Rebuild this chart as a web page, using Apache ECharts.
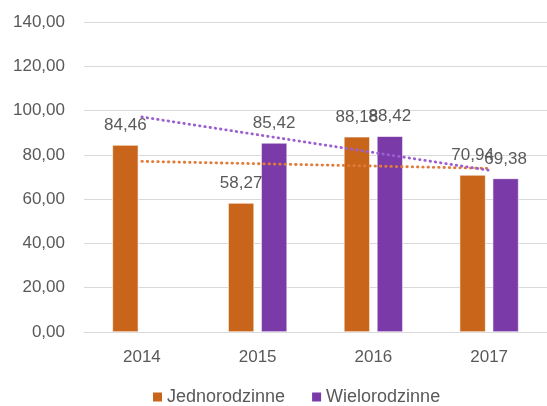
<!DOCTYPE html>
<html>
<head>
<meta charset="utf-8">
<script src="https://cdn.jsdelivr.net/npm/echarts@6/dist/echarts.min.js"></script>
<style>html,body{margin:0;padding:0;background:#fff}#c{width:547px;height:406px}</style>
</head>
<body>
<div id="c"></div>
<script>
var categories = ['2014', '2015', '2016', '2017'];
var jednorodzinne = [84.46, 58.27, 88.18, 70.94];
var wielorodzinne = [null, 85.42, 88.42, 69.38];
var trendJednorodzinne = [77.06, null, null, 73.87];
var trendWielorodzinne = [97.11, null, null, 73.05];
var yTicks = { min: 0, max: 140, interval: 20 };

var FONT = 'Liberation Sans';
var TXT = '#595959';
function fmt(v) { return (typeof v === 'number') ? v.toFixed(2).replace('.', ',') : ''; }

var chart = echarts.init(document.getElementById('c'), null, { renderer: 'canvas' });
chart.setOption({
  animation: false,
  textStyle: { fontFamily: FONT },
  grid: { left: 84, right: -6, top: 22, bottom: 74, containLabel: false },
  legend: {
    data: ['Jednorodzinne', 'Wielorodzinne'],
    left: 151, top: 388, padding: 0,
    itemWidth: 11, itemHeight: 11, itemGap: 25,
    icon: 'rect',
    textStyle: { color: TXT, fontSize: 18, fontFamily: FONT, padding: [0, 0, 0, -1] }
  },
  xAxis: {
    type: 'category', data: categories,
    axisLine: { lineStyle: { color: '#d9d9d9', width: 1 } },
    axisTick: { show: false },
    axisLabel: { color: TXT, fontSize: 17, fontFamily: FONT, margin: 17 }
  },
  yAxis: {
    type: 'value', min: yTicks.min, max: yTicks.max, interval: yTicks.interval,
    axisLine: { show: false }, axisTick: { show: false },
    splitLine: { lineStyle: { color: '#d9d9d9', width: 1 } },
    axisLabel: { color: TXT, fontSize: 17, fontFamily: FONT, margin: 19, formatter: fmt }
  },
  series: [
    {
      name: 'Jednorodzinne', type: 'bar', data: jednorodzinne,
      barWidth: 26, barGap: '27%',
      itemStyle: { color: '#C9651A', borderColor: '#ffffff', borderWidth: 0.6 },
      label: { show: true, position: 'top', distance: 11, color: TXT, fontSize: 17, fontFamily: FONT, formatter: function (p) { return fmt(p.value); } },
      z: 2
    },
    {
      name: 'Wielorodzinne', type: 'bar', data: wielorodzinne,
      barWidth: 26, barGap: '27%',
      itemStyle: { color: '#7A3BA8', borderColor: '#ffffff', borderWidth: 0.6 },
      label: { show: true, position: 'top', distance: 11, color: TXT, fontSize: 17, fontFamily: FONT, formatter: function (p) { return fmt(p.value); } },
      z: 2
    },
    {
      name: 'trend1', type: 'line', data: trendJednorodzinne, connectNulls: true,
      symbol: 'none', silent: true,
      lineStyle: { color: '#E07B39', width: 2.8, type: [0.5, 4.8], cap: 'round' },
      z: 3
    },
    {
      name: 'trend2', type: 'line', data: trendWielorodzinne, connectNulls: true,
      symbol: 'none', silent: true,
      lineStyle: { color: '#9B5FCF', width: 2.8, type: [0.5, 4.8], cap: 'round' },
      z: 3
    }
  ]
});
</script>
</body>
</html>
